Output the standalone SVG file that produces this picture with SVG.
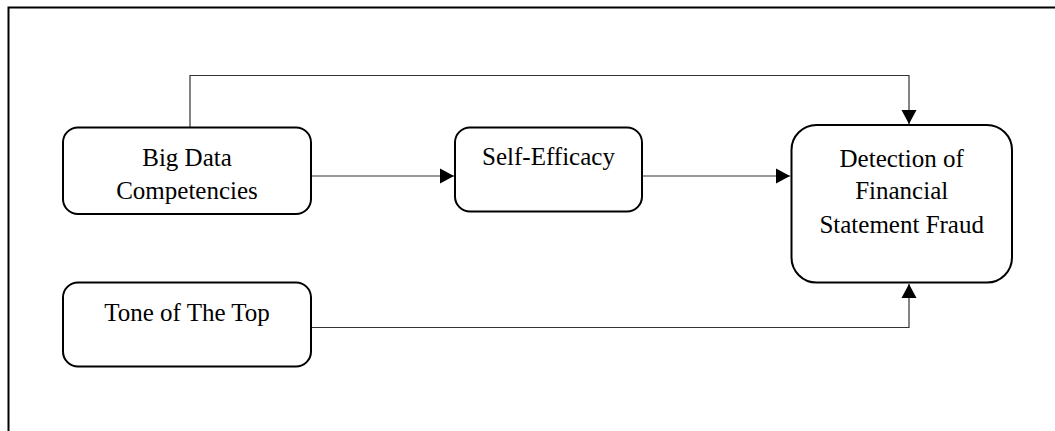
<svg xmlns="http://www.w3.org/2000/svg" width="1055" height="431" viewBox="0 0 1055 431">
<style>
.node{fill:#fff;stroke:#000;stroke-width:2}
.lbl{font-family:"Liberation Serif","Times New Roman",serif;font-size:25px;fill:#000;text-anchor:middle}
.con{fill:none;stroke:#333;stroke-width:1.2}
.frame{fill:none;stroke:#000;stroke-width:2}
</style>
<defs>
<marker id="ah" markerUnits="userSpaceOnUse" markerWidth="16" markerHeight="16" refX="14" refY="8" orient="auto">
<path d="M0,0.5 L14,8 L0,15.5 Z" fill="#000"/>
</marker>
</defs>
<rect width="1055" height="431" fill="#fff"/>
<path class="frame" d="M8.5,431 V7.5 H1055"/>
<g id="connectors">
<path class="con" d="M190,127 V75.5 H909 V124" marker-end="url(#ah)"/>
<path class="con" d="M311,176 H454" marker-end="url(#ah)"/>
<path class="con" d="M642,176 H790" marker-end="url(#ah)"/>
<path class="con" d="M311,327.5 H909 V284" marker-end="url(#ah)"/>
</g>
<g id="big-data">
<rect class="node" x="63" y="127.5" width="248" height="86.5" rx="15"/>
<text class="lbl" x="187" y="166">Big Data</text>
<text class="lbl" x="187" y="198.5">Competencies</text>
</g>
<g id="self-efficacy">
<rect class="node" x="455" y="127.5" width="187" height="84" rx="15"/>
<text class="lbl" x="548.5" y="165">Self-Efficacy</text>
</g>
<g id="detection">
<rect class="node" x="791.5" y="125" width="220.5" height="157.5" rx="25"/>
<text class="lbl" x="901.7" y="166.5">Detection of</text>
<text class="lbl" x="901.7" y="199">Financial</text>
<text class="lbl" x="901.7" y="232.5">Statement Fraud</text>
</g>
<g id="tone">
<rect class="node" x="63" y="282.5" width="248" height="84" rx="15"/>
<text class="lbl" x="187" y="321">Tone of The Top</text>
</g>
</svg>
